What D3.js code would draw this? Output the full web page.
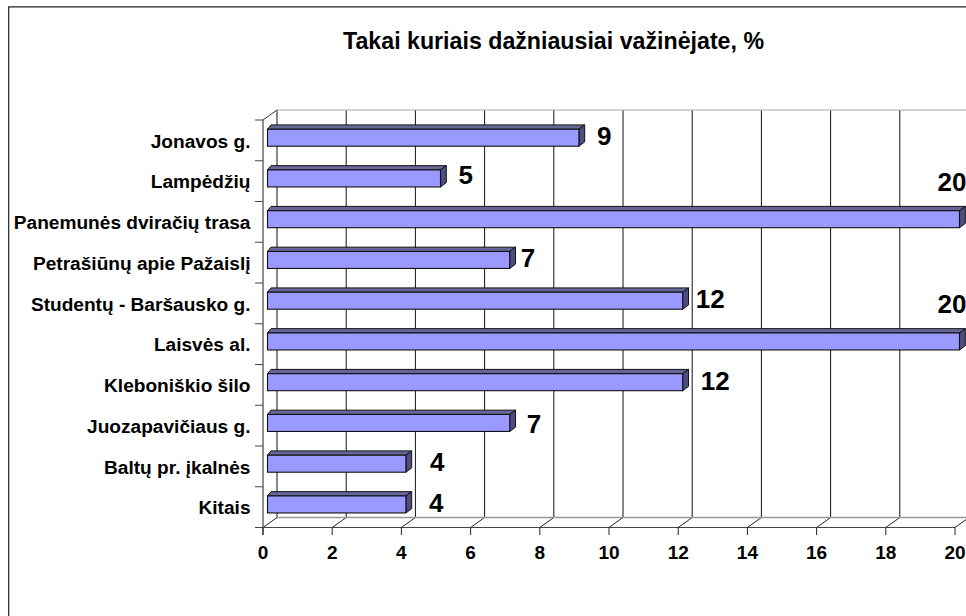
<!DOCTYPE html>
<html><head><meta charset="utf-8">
<script src="https://cdn.jsdelivr.net/npm/d3@7"></script>
<style>html,body{margin:0;padding:0;background:#fff}svg{display:block}text{font-family:"Liberation Sans",Arial,sans-serif;font-weight:700;fill:#000}</style>
</head><body><svg id="c" width="966" height="616"></svg>
<script>
const title = "Takai kuriais dažniausiai važinėjate, %";
const categories = ["Jonavos g.","Lampėdžių","Panemunės dviračių trasa","Petrašiūnų apie Pažaislį","Studentų - Baršausko g.","Laisvės al.","Kleboniškio šilo","Juozapavičiaus g.","Baltų pr. įkalnės","Kitais"];
const values = [9,5,20,7,12,20,12,7,4,4];
const xTicks = [0,2,4,6,8,10,12,14,16,18,20];
const labelOffsets = [18,18,-22,11,13,-22,18,17,24,23];
const labelDy = [0,-2,-35.5,0,0,-35.5,0,3,0,0];

const svg = d3.select("#c");
const x = d3.scaleLinear().domain([0,20]).range([263,955]);
const y = d3.scaleBand().domain(categories).range([120,527.5]);
const depthX = 14, depthY = -10;
const barDX = 4.5, barDY = 4.3, barDL = 3.5, barDR = 5.8;

// frame (open at right and bottom, cropped)
svg.append("path").attr("d","M8.7,616V6.8H966").attr("fill","none").attr("stroke","#222").attr("stroke-width",1.2);

// title
svg.append("text").attr("x",553.5).attr("y",49).attr("text-anchor","middle").attr("font-size",23.2).text(title);

// back wall gridlines
svg.append("g").selectAll("line").data(xTicks).join("line")
  .attr("x1",d=>x(d)+depthX).attr("x2",d=>x(d)+depthX)
  .attr("y1",120+depthY).attr("y2",527.5+depthY)
  .attr("stroke","#111").attr("stroke-width",1);
// floor depth lines
svg.append("g").selectAll("line").data(xTicks).join("line")
  .attr("x1",d=>x(d)).attr("x2",d=>x(d)+depthX)
  .attr("y1",527.5).attr("y2",527.5+depthY)
  .attr("stroke","#222").attr("stroke-width",1);
// back top & floor back edges
svg.append("line").attr("x1",x(0)+depthX).attr("x2",966).attr("y1",120+depthY).attr("y2",120+depthY).attr("stroke","#aaa").attr("stroke-width",1.2);
svg.append("line").attr("x1",x(0)+depthX).attr("x2",966).attr("y1",527.5+depthY).attr("y2",527.5+depthY).attr("stroke","#999").attr("stroke-width",1.6);
// front axes
svg.append("line").attr("x1",263).attr("x2",x(0)+depthX).attr("y1",120).attr("y2",120+depthY).attr("stroke","#333");
svg.append("line").attr("x1",x(0)).attr("x2",x(0)).attr("y1",120).attr("y2",535).attr("stroke","#333").attr("stroke-width",1.1);
svg.append("line").attr("x1",255).attr("x2",x(20)).attr("y1",527.5).attr("y2",527.5).attr("stroke","#444").attr("stroke-width",1.2);
// y ticks
svg.append("g").selectAll("line").data(categories.map(c=>y(c)).concat([527.5])).join("line")
  .attr("x1",255).attr("x2",263).attr("y1",d=>d).attr("y2",d=>d).attr("stroke","#444").attr("stroke-width",1);
// x ticks
svg.append("g").selectAll("line").data(xTicks).join("line")
  .attr("x1",d=>x(d)).attr("x2",d=>x(d)).attr("y1",527.5).attr("y2",535).attr("stroke","#222").attr("stroke-width",1);

// bars
const bars = svg.append("g").selectAll("g").data(categories).join("g");
const yTop = c => y(c)+9.2, h = 17;
const x0 = x(0)+barDX;
const xEnd = i => x(values[i])+barDX;
bars.append("polygon").attr("fill","#666699").attr("stroke","#111").attr("stroke-width",1)
  .attr("points",(c,i)=>[[x0,yTop(c)],[x0+barDL,yTop(c)-barDY],[xEnd(i)+barDR,yTop(c)-barDY],[xEnd(i),yTop(c)]].join(" "));
bars.append("polygon").attr("fill","#4d4d80").attr("stroke","#111").attr("stroke-width",1)
  .attr("points",(c,i)=>[[xEnd(i),yTop(c)],[xEnd(i)+barDR,yTop(c)-barDY],[xEnd(i)+barDR,yTop(c)+h-barDY],[xEnd(i),yTop(c)+h]].join(" "));
bars.append("rect").attr("fill","#9999ff").attr("stroke","#111").attr("stroke-width",1.1)
  .attr("x",x0).attr("y",c=>yTop(c)).attr("height",h).attr("width",(c,i)=>xEnd(i)-x0);

// category labels
svg.append("g").selectAll("text").data(categories).join("text")
  .attr("x",250.5).attr("y",c=>y(c)+27.5).attr("text-anchor","end").attr("font-size",19.1).text(c=>c);
// x labels
svg.append("g").selectAll("text").data(xTicks).join("text")
  .attr("x",d=>x(d)).attr("y",558.5).attr("text-anchor","middle").attr("font-size",19).text(d=>d);
// data labels
svg.append("g").selectAll("text").data(categories).join("text")
  .attr("x",(c,i)=>xEnd(i)+labelOffsets[i]).attr("y",(c,i)=>y(c)+25+labelDy[i]).attr("font-size",26).text((c,i)=>values[i]);
</script></body></html>
